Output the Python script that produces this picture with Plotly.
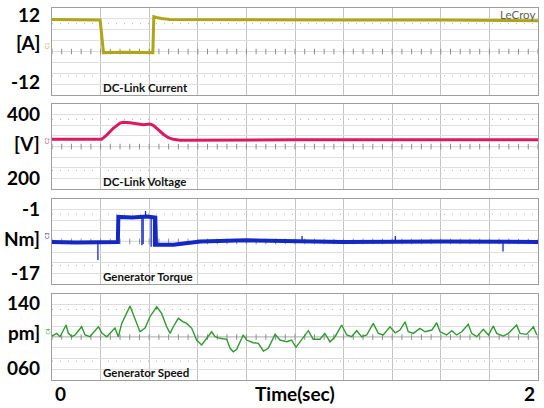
import numpy as np
import plotly.graph_objects as go

# ---------------- data ----------------
t_range = [0, 2]
trigger_t = 0.2

current_t = [0, 0.10, 0.198, 0.212, 0.30, 0.415, 0.419, 0.43, 0.45, 0.486, 0.8, 1.2, 1.6, 2.0]
current_v = [8.8, 8.7, 8.7, -0.3, -0.2, -0.3, 9.6, 9.4, 9.1, 8.8, 8.7, 8.7, 8.7, 8.5]

volt_t = [0, 0.204, 0.225, 0.252, 0.280, 0.293, 0.321, 0.349, 0.376, 0.403, 0.417,
          0.437, 0.458, 0.479, 0.499, 0.527, 1.0, 2.0]
volt_v = [317, 317, 327, 343, 355, 357, 356, 353, 351, 353, 350,
          340, 329, 321, 317, 315, 316, 316]

# torque: main level (noisy band) and the narrow spikes/dips
torque_t = [0, 0.10, 0.271, 0.273, 0.33, 0.39, 0.425, 0.428, 0.5, 0.61, 0.8, 1.0,
            1.2, 1.6, 2.0]
torque_v = [-9.1, -9.2, -9.1, -4.4, -4.5, -4.3, -4.5, -9.6, -9.6, -9.0, -8.8, -8.9,
            -9.1, -9.0, -9.1]
spike_t = [0.189, 0.189, None, 0.370, 0.370, None, 0.375, 0.375, None,
           0.408, 0.408, None, 0.418, 0.418, None, 0.385, 0.385, None,
           1.029, 1.029, None, 1.413, 1.413, None, 1.856, 1.856]
spike_v = [-9.1, -12.5, None, -4.4, -9.7, None, -4.4, -9.5, None,
           -4.4, -10.0, None, -4.4, -10.0, None, -4.4, -3.3, None,
           -8.9, -8.0, None, -8.9, -8.0, None, -9.0, -10.9]

speed_t = [0, 0.019, 0.033, 0.058, 0.067, 0.081, 0.095, 0.122, 0.136, 0.156, 0.191,
           0.205, 0.225, 0.246, 0.259, 0.273, 0.287, 0.321, 0.342, 0.362, 0.383,
           0.403, 0.431, 0.451, 0.472, 0.486, 0.499, 0.520, 0.540, 0.554, 0.575,
           0.595, 0.616, 0.637, 0.657, 0.671, 0.691, 0.719, 0.733, 0.746, 0.760,
           0.787, 0.801, 0.828, 0.849, 0.870, 0.890, 0.918, 0.938, 0.966, 0.986,
           1.004, 1.021, 1.055, 1.075, 1.103, 1.123, 1.144, 1.165, 1.192, 1.213,
           1.233, 1.254, 1.274, 1.295, 1.322, 1.343, 1.363, 1.391, 1.412, 1.432,
           1.453, 1.466, 1.487, 1.514, 1.535, 1.563, 1.583, 1.597, 1.624, 1.645,
           1.665, 1.686, 1.713, 1.727, 1.748, 1.775, 1.796, 1.816, 1.830, 1.857,
           1.878, 1.912, 1.926, 1.953, 1.981, 1.995]
speed_v = [1100.9, 1103.4, 1100.3, 1111.2, 1103.7, 1100.3, 1101.9, 1109.6, 1101.9,
           1100.3, 1109.6, 1103.7, 1100.3, 1104.9, 1108.4, 1100.3, 1112.7, 1128.8,
           1115.8, 1104.9, 1108.4, 1118.9, 1128.2, 1122.0, 1109.6, 1103.4, 1109.6,
           1117.4, 1114.2, 1112.7, 1108.1, 1097.2, 1092.6, 1098.8, 1104.9, 1100.3,
           1098.8, 1097.9, 1089.5, 1086.3, 1088.6, 1101.9, 1097.2, 1094.7, 1094.1,
           1087.0, 1089.5, 1102.5, 1097.2, 1095.6, 1097.2, 1090.4, 1095.6, 1105.9,
           1097.9, 1097.9, 1103.4, 1095.6, 1100.3, 1111.2, 1101.9, 1100.3, 1105.9,
           1100.3, 1101.9, 1112.7, 1103.4, 1101.9, 1109.6, 1104.0, 1106.5, 1114.2,
           1104.9, 1103.4, 1108.1, 1104.9, 1106.5, 1113.3, 1104.9, 1101.9, 1105.9,
           1101.9, 1104.9, 1111.8, 1103.4, 1100.3, 1107.2, 1101.9, 1110.2, 1103.4,
           1100.9, 1103.4, 1111.2, 1103.4, 1102.5, 1109.6, 1101.9]

titles = ["DC-Link Current", "DC-Link Voltage", "Generator Torque", "Generator Speed"]
channels = ["C1", "C2", "C3", "C4"]
y_labels = [["12", "[A]", "-12"], ["400", "[V]", "200"],
            ["-1", "Nm]", "-17"], ["140", "pm]", "060"]]
y_ranges = [[-12, 12], [200, 400], [-17, -1], [1060, 1140]]
x_labels = ["0", "Time(sec)", "2"]

# ---------------- styling ----------------
colors = ["#aea616", "#d81b63", "#1428c4", "#2f9a2f"]
widths = [3, 3, 4, 1.4]
domains = [[0.766, 1.0], [0.513, 0.742], [0.258, 0.487], [0.0, 0.231]]
label_pos = [[0.92, 0.60, 0.15], [0.89, 0.54, 0.14], [0.89, 0.54, 0.14], [0.90, 0.55, 0.15]]
FONT = "Lato, 'Open Sans', sans-serif"

series = [(current_t, current_v), (volt_t, volt_v), (torque_t, torque_v), (speed_t, speed_v)]

fig = go.Figure()
shapes = []
annotations = []
grid_col = "#c4c4c4"
tick_x = np.round(np.arange(0, 2.0001, 0.04), 3)

for i in range(4):
    n = i + 1
    xa = "x" if n == 1 else f"x{n}"
    ya = "y" if n == 1 else f"y{n}"
    lo, hi = y_ranges[i]
    span = hi - lo
    mid = (lo + hi) / 2

    # centre-line minor ticks (grid decoration)
    fig.add_trace(go.Scatter(x=tick_x, y=[mid] * len(tick_x), mode="markers",
                             marker=dict(symbol="line-ns", size=4,
                                         line=dict(width=1, color="#8c8c8c")),
                             xaxis=xa, yaxis=ya, hoverinfo="skip", showlegend=False))
    # waveform
    t, v = series[i]
    fig.add_trace(go.Scatter(x=t, y=v, mode="lines",
                             line=dict(color=colors[i], width=widths[i]),
                             xaxis=xa, yaxis=ya, showlegend=False))
    if i == 2:
        fig.add_trace(go.Scatter(x=spike_t, y=spike_v, mode="lines",
                                 line=dict(color=colors[i], width=1.3),
                                 xaxis=xa, yaxis=ya, showlegend=False, connectgaps=False))
    # trigger marker under panel
    fig.add_trace(go.Scatter(x=[trigger_t], y=[lo - span * 3.5 / 86], mode="markers",
                             marker=dict(symbol="triangle-up", size=6, color=colors[i]),
                             xaxis=xa, yaxis=ya, cliponaxis=False, hoverinfo="skip",
                             showlegend=False))
    # channel level marker on the left
    fig.add_trace(go.Scatter(x=[-0.012], y=[mid], mode="markers",
                             marker=dict(symbol="line-ew", size=6,
                                         line=dict(width=1.5, color=colors[i])),
                             xaxis=xa, yaxis=ya, cliponaxis=False, hoverinfo="skip",
                             showlegend=False))

    fig.update_layout(**{
        ("xaxis" if n == 1 else f"xaxis{n}"): dict(
            range=t_range, domain=[0, 1], anchor=ya, showgrid=True, dtick=0.2,
            tick0=0, gridcolor=grid_col, gridwidth=1, showticklabels=False,
            ticks="", zeroline=False, showline=True, mirror=True,
            linecolor="#9e9e9e", linewidth=1, fixedrange=True),
        ("yaxis" if n == 1 else f"yaxis{n}"): dict(
            range=[lo, hi], domain=domains[i], anchor=xa, showgrid=True,
            tickvals=[lo + k * span / 8 for k in range(1, 8)],
            gridcolor="#dedede", gridwidth=1, showticklabels=False, ticks="",
            zeroline=False, showline=True, mirror=True, linecolor="#9e9e9e",
            linewidth=1, fixedrange=True),
    })

    # centre line and dotted rows
    shapes.append(dict(type="line", xref="paper", x0=0, x1=1, yref=f"{ya} domain",
                       y0=0.5, y1=0.5, line=dict(color="#8c8c8c", width=1), layer="below"))
    for yy in (0.82, 0.22):
        shapes.append(dict(type="line", xref="paper", x0=0, x1=1, yref=f"{ya} domain",
                           y0=yy, y1=yy, line=dict(color="#b4b4b4", width=1, dash="1px,7px"),
                           layer="below"))

    # side labels
    for txt, yy in zip(y_labels[i], label_pos[i]):
        annotations.append(dict(text=txt, xref="paper", x=-0.02, xanchor="right",
                                yref=f"{ya} domain", y=yy, yanchor="middle", showarrow=False,
                                font=dict(family=FONT, size=19, color="#000", weight="bold")))
    # panel title
    annotations.append(dict(text=titles[i], xref=xa, x=trigger_t, xanchor="left",
                            yref=f"{ya} domain", y=0.09, yanchor="middle", showarrow=False,
                            font=dict(family=FONT, size=11.5, color="#111", weight="bold")))
    # channel name
    annotations.append(dict(text=channels[i], xref="paper", x=-0.009, xanchor="center",
                            yref=f"{ya} domain", y=0.56, yanchor="middle", showarrow=False,
                            textangle=-90,
                            font=dict(family=FONT, size=5, color=colors[i])))

# level marker at right of panel 1
fig.add_trace(go.Scatter(x=[2.008], y=[7.6], mode="markers",
                         marker=dict(symbol="triangle-left", size=6, color=colors[0]),
                         xaxis="x", yaxis="y", cliponaxis=False, hoverinfo="skip",
                         showlegend=False))

annotations.append(dict(text="LeCroy", xref="paper", x=0.998, xanchor="right",
                        yref="y domain", y=0.92, yanchor="middle", showarrow=False,
                        font=dict(family=FONT, size=11.5, color="#5e5e5e")))

# bottom labels
for txt, xx in zip(x_labels, [0.0165, 0.50, 0.982]):
    annotations.append(dict(text=txt, xref="paper", x=xx, xanchor="center",
                            yref="paper", y=-0.036, yanchor="middle", showarrow=False,
                            font=dict(family=FONT, size=19, color="#000", weight="bold")))

fig.update_layout(width=544, height=408, margin=dict(l=52, r=6, t=8, b=28),
                  paper_bgcolor="white", plot_bgcolor="white",
                  shapes=shapes, annotations=annotations)

fig.write_html("out.html")
